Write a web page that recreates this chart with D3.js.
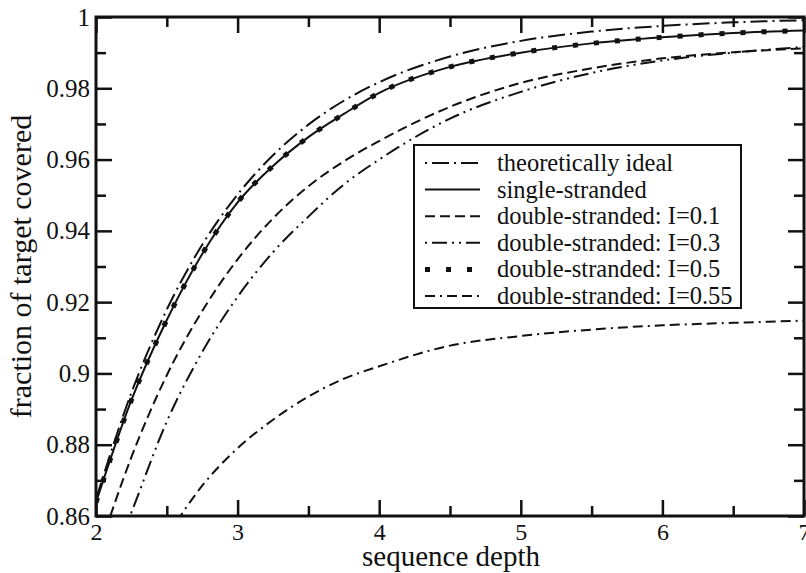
<!DOCTYPE html>
<html><head><meta charset="utf-8">
<script src="https://cdn.jsdelivr.net/npm/d3@7"></script>
<style>
html,body{margin:0;padding:0;background:#fff;}
svg text{font-family:"Liberation Serif","DejaVu Serif","Times New Roman",Times,serif;fill:#111;}
</style></head>
<body><svg id="chart" width="806" height="573"></svg>
<script>
// ---- data ----
const depth = [2, 2.25, 2.5, 2.75, 3, 3.25, 3.5, 3.75, 4, 4.5, 5, 5.5, 6, 6.5, 7];
const ideal   = [0.8647, 0.8946, 0.9179, 0.9361, 0.9502, 0.9612, 0.9698, 0.9765, 0.9817, 0.9889, 0.9933, 0.9959, 0.9975, 0.9985, 0.9991];
const single  = [0.8638, 0.8925, 0.9150, 0.9335, 0.9480, 0.9582, 0.9663, 0.9728, 0.9787, 0.9860, 0.9900, 0.9926, 0.9943, 0.9955, 0.9962];
const ds01    = [0.8480, 0.8765, 0.8995, 0.9175, 0.9320, 0.9435, 0.9525, 0.9595, 0.9652, 0.9748, 0.9815, 0.9856, 0.9884, 0.9901, 0.9912];
const ds03    = [0.8360, 0.8610, 0.8865, 0.9060, 0.9215, 0.9340, 0.9440, 0.9530, 0.9600, 0.9715, 0.9790, 0.9843, 0.9878, 0.9900, 0.9916];
const ds05    = [0.8638, 0.8925, 0.9150, 0.9335, 0.9480, 0.9582, 0.9663, 0.9728, 0.9787, 0.9860, 0.9900, 0.9926, 0.9943, 0.9955, 0.9962];
const ds055   = [0.8120, 0.8370, 0.8540, 0.8685, 0.8790, 0.8870, 0.8935, 0.8985, 0.9020, 0.9078, 0.9105, 0.9123, 0.9135, 0.9142, 0.9148];
const seriesNames = ["theoretically ideal", "single-stranded", "double-stranded: I=0.1",
                     "double-stranded: I=0.3", "double-stranded: I=0.5", "double-stranded: I=0.55"];
const xTicks = [2, 3, 4, 5, 6, 7];
const xMinor = [2.5, 3.5, 4.5, 5.5, 6.5];
const yTicks = [0.86, 0.88, 0.9, 0.92, 0.94, 0.96, 0.98, 1];
const yTickLabels = ["0.86", "0.88", "0.9", "0.92", "0.94", "0.96", "0.98", "1"];
const yMinor = [0.87, 0.89, 0.91, 0.93, 0.95, 0.97, 0.99];
const xTitle = "sequence depth";
const yTitle = "fraction of target covered";

// ---- layout ----
const FONT = '"Liberation Serif","DejaVu Serif","Times New Roman",Times,serif';
const svg = d3.select("#chart");
const L = 96, R = 804, T = 17, B = 516;
const x = d3.scaleLinear().domain([2, 7]).range([L, R]);
const y = d3.scaleLinear().domain([0.86, 1]).range([B, T]);

const styles = [
  {dash: "17,5,2,5", width: 2, legendOffset: 22},
  {dash: null, width: 2, legendOffset: 0},
  {dash: "10,5", width: 2, legendOffset: 0},
  {dash: "15,5,2,5,2,5", width: 2, legendOffset: 27},
  {dash: "5,16", width: 5, legendOffset: 0},
  {dash: "10,5,2,5,10,5", width: 2, legendOffset: 0}
];
const allSeries = [ideal, single, ds01, ds03, ds05, ds055];

svg.append("defs").append("clipPath").attr("id", "clip")
  .append("rect").attr("x", L).attr("y", T).attr("width", R - L).attr("height", B - T);

const line = d3.line().x(d => x(d[0])).y(d => y(d[1])).curve(d3.curveMonotoneX);
const gLines = svg.append("g").attr("clip-path", "url(#clip)");
allSeries.forEach((vals, i) => {
  const pts = depth.map((c, j) => [c, vals[j]]);
  gLines.append("path").datum(pts).attr("d", line)
    .attr("fill", "none").attr("stroke", "#111")
    .attr("stroke-width", styles[i].width)
    .attr("stroke-dasharray", styles[i].dash)
    .attr("stroke-linecap", "butt");
});

// ---- axes (ticks inward on all sides) ----
const MAJ = 16, MIN = 10;
function styleAxis(g) {
  g.attr("font-family", FONT);
  g.select(".domain").remove();
  g.selectAll(".tick line").attr("stroke", "#111").attr("stroke-width", 2.5);
  g.selectAll(".tick text").style("font-size", "25px").attr("fill", "#111");
}
svg.append("g").attr("transform", `translate(0,${B})`)
  .call(d3.axisBottom(x).tickValues(xTicks).tickSizeInner(-MAJ).tickSizeOuter(0).tickFormat(d3.format("d")))
  .call(styleAxis)
  .call(g => g.selectAll(".tick text").attr("dy", null).attr("y", 24).style("font-size", "24px"));
svg.append("g").attr("transform", `translate(0,${B})`)
  .call(d3.axisBottom(x).tickValues(xMinor).tickSizeInner(-MIN).tickSizeOuter(0).tickFormat(""))
  .call(styleAxis);
svg.append("g").attr("transform", `translate(0,${T})`)
  .call(d3.axisTop(x).tickValues(xTicks).tickSizeInner(-MAJ).tickSizeOuter(0).tickFormat(""))
  .call(styleAxis);
svg.append("g").attr("transform", `translate(0,${T})`)
  .call(d3.axisTop(x).tickValues(xMinor).tickSizeInner(-MIN).tickSizeOuter(0).tickFormat(""))
  .call(styleAxis);
svg.append("g").attr("transform", `translate(${L},0)`)
  .call(d3.axisLeft(y).tickValues(yTicks).tickSizeInner(-MAJ).tickSizeOuter(0).tickPadding(6)
        .tickFormat((d, i) => yTickLabels[i]))
  .call(styleAxis);
svg.append("g").attr("transform", `translate(${L},0)`)
  .call(d3.axisLeft(y).tickValues(yMinor).tickSizeInner(-MIN).tickSizeOuter(0).tickFormat(""))
  .call(styleAxis);
svg.append("g").attr("transform", `translate(${R},0)`)
  .call(d3.axisRight(y).tickValues(yTicks).tickSizeInner(-MAJ).tickSizeOuter(0).tickFormat(""))
  .call(styleAxis);
svg.append("g").attr("transform", `translate(${R},0)`)
  .call(d3.axisRight(y).tickValues(yMinor).tickSizeInner(-MIN).tickSizeOuter(0).tickFormat(""))
  .call(styleAxis);

// frame
svg.append("rect").attr("x", L).attr("y", T).attr("width", R - L).attr("height", B - T)
  .attr("fill", "none").attr("stroke", "#111").attr("stroke-width", 3);

// titles
svg.append("text").attr("x", 451).attr("y", 566).attr("text-anchor", "middle")
  .attr("font-family", FONT).style("font-size", "29px").text(xTitle);
svg.append("text").attr("transform", `translate(31,${(T + B) / 2}) rotate(-90)`)
  .attr("text-anchor", "middle").attr("font-family", FONT).style("font-size", "30px").text(yTitle);

// ---- legend ----
const lg = svg.append("g").attr("font-family", FONT);
lg.append("rect").attr("x", 414).attr("y", 145).attr("width", 327).attr("height", 163)
  .attr("fill", "#fff").attr("stroke", "#111").attr("stroke-width", 2);
seriesNames.forEach((name, i) => {
  const cy = 163 + i * 26.6;
  lg.append("line").attr("x1", 425).attr("x2", 480).attr("y1", cy).attr("y2", cy)
    .attr("stroke", "#111").attr("stroke-width", styles[i].width)
    .attr("stroke-dasharray", styles[i].dash)
    .attr("stroke-dashoffset", styles[i].legendOffset);
  lg.append("text").attr("x", 497).attr("y", cy + 8).style("font-size", "24.5px").text(name);
});
</script></body></html>
